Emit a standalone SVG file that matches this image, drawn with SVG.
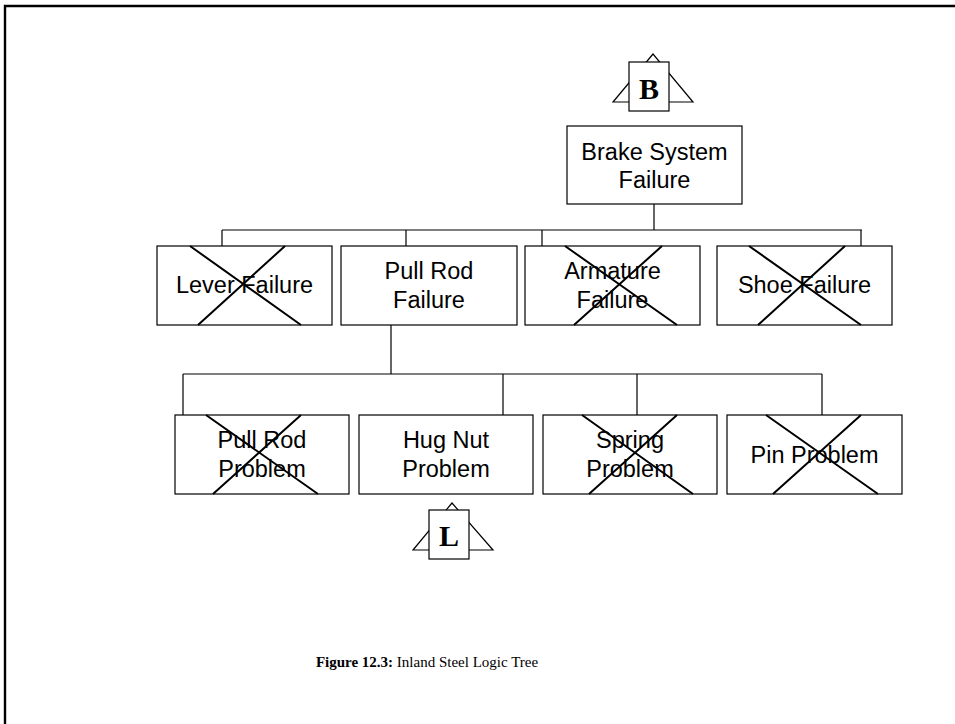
<svg xmlns="http://www.w3.org/2000/svg" width="955" height="724" viewBox="0 0 955 724">
<style>
.box{fill:#fff;stroke:#000;stroke-width:1.2}
.x{stroke:#000;stroke-width:2;fill:none}
.lbl{font-family:"Liberation Sans",Arial,sans-serif;font-size:23.5px;fill:#000;text-anchor:middle}
.conn{stroke:#000;stroke-width:1.2;fill:none}
.tri{fill:#fff;stroke:#000;stroke-width:1.2}
.tl{font-family:"Liberation Serif","Times New Roman",serif;font-weight:bold;font-size:30px;text-anchor:middle;fill:#000}
.cap{font-family:"Liberation Serif","Times New Roman",serif;font-size:15px;fill:#000}
</style>
<rect width="955" height="724" fill="#fff"/>
<path d="M5,724 V6 H955" fill="none" stroke="#000" stroke-width="2.4"/>
<g id="connectors">
<path class="conn" d="M654,204 V230 M222,230 H862 M222,230 V246 M406,230 V246 M542,230 V246 M861,230 V246"/>
<path class="conn" d="M391,325 V374 M183,374 H822 M183,374 V415 M503,374 V415 M637,374 V415 M822,374 V415"/>
</g>
<g id="transfer-B">
<polygon class="tri" points="653,54 613,102 693,102"/>
<rect class="box" x="629" y="62" width="40" height="49"/>
<text class="tl" x="649" y="99">B</text>
</g>
<g id="brake">
<rect class="box" x="567" y="126" width="175" height="78"/>
<text class="lbl" x="654.5" y="160">Brake System</text>
<text class="lbl" x="654.5" y="188">Failure</text>
</g>
<g id="lever">
<rect class="box" x="157" y="246" width="175" height="79"/>
<text class="lbl" x="244.5" y="293">Lever Failure</text>
<path class="x" d="M190,246 L301,325 M285,246 L198,325"/>
</g>
<g id="pullrod">
<rect class="box" x="341" y="246" width="176" height="79"/>
<text class="lbl" x="429" y="279">Pull Rod</text>
<text class="lbl" x="429" y="308">Failure</text>
</g>
<g id="armature">
<rect class="box" x="525" y="246" width="175" height="79"/>
<text class="lbl" x="612.5" y="279">Armature</text>
<text class="lbl" x="612.5" y="308">Failure</text>
<path class="x" d="M565,246 L677,325 M662,246 L574,325"/>
</g>
<g id="shoe">
<rect class="box" x="717" y="246" width="175" height="79"/>
<text class="lbl" x="804.5" y="293">Shoe Failure</text>
<path class="x" d="M749,246 L861,325 M845,246 L758,325"/>
</g>
<g id="pullrodproblem">
<rect class="box" x="175" y="415" width="174" height="79"/>
<text class="lbl" x="262" y="448">Pull Rod</text>
<text class="lbl" x="262" y="477">Problem</text>
<path class="x" d="M206,415 L318,494 M301,415 L213,494"/>
</g>
<g id="hugnut">
<rect class="box" x="359" y="415" width="174" height="79"/>
<text class="lbl" x="446" y="448">Hug Nut</text>
<text class="lbl" x="446" y="477">Problem</text>
</g>
<g id="spring">
<rect class="box" x="543" y="415" width="174" height="79"/>
<text class="lbl" x="630" y="448">Spring</text>
<text class="lbl" x="630" y="477">Problem</text>
<path class="x" d="M582,415 L693,494 M677,415 L589,494"/>
</g>
<g id="pin">
<rect class="box" x="727" y="415" width="175" height="79"/>
<text class="lbl" x="814.5" y="463">Pin Problem</text>
<path class="x" d="M766,415 L878,494 M861,415 L773,494"/>
</g>
<g id="transfer-L">
<polygon class="tri" points="452,503 413,550 493,550"/>
<rect class="box" x="429" y="510" width="40" height="49"/>
<text class="tl" x="449" y="546">L</text>
</g>
<text class="cap" x="427" y="667" text-anchor="middle"><tspan font-weight="bold">Figure 12.3:</tspan> Inland Steel Logic Tree</text>
</svg>
